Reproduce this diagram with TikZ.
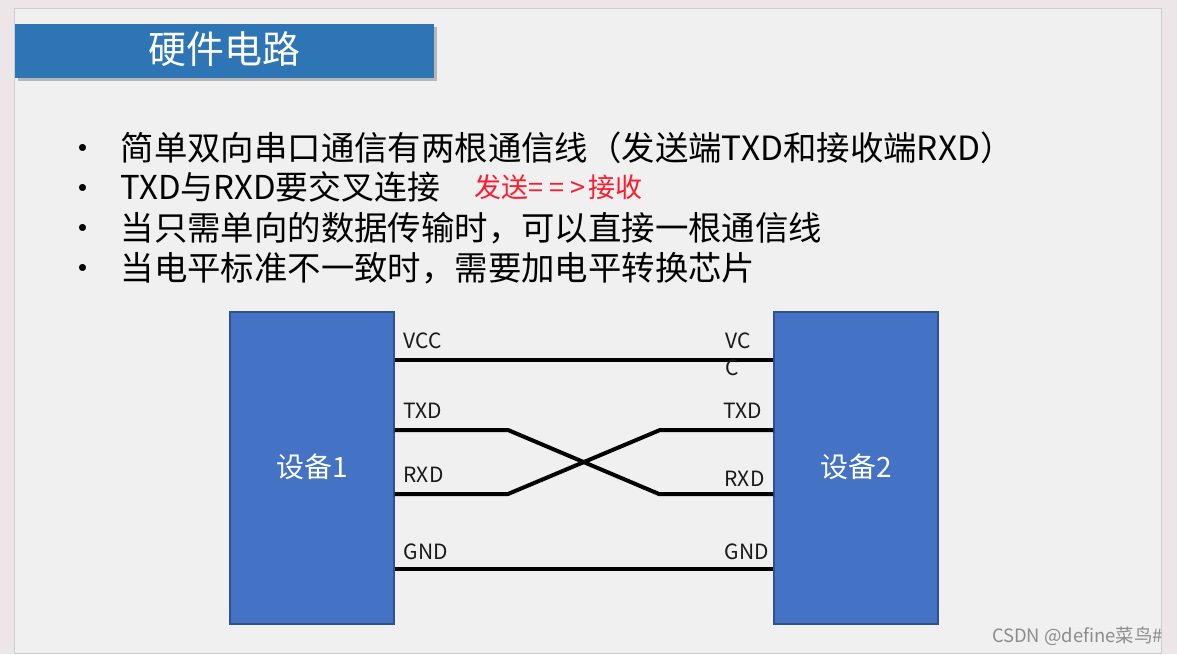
\documentclass[tikz,border=0pt]{standalone}
\usepackage{fontspec}
\setmainfont{Noto Sans CJK SC}
\usetikzlibrary{shadows}
\definecolor{slidebg}{HTML}{F0F0F0}
\definecolor{pagebg}{HTML}{EDE6E8}
\definecolor{titleblue}{HTML}{2E75B6}
\definecolor{devblue}{HTML}{4472C4}
\definecolor{devedge}{HTML}{2F528F}
\definecolor{markred}{HTML}{FF1A2E}
\tikzset{
	bullet/.style={anchor=center, inner sep=0pt, font=\fontsize{33}{33}\selectfont, text=black},
	bodyline/.style={anchor=west, inner sep=0pt, font=\fontsize{33.4}{34}\selectfont, text=black},
	device/.style={draw=devedge, line width=1.2pt, fill=devblue, text=white, minimum width=164pt, minimum height=312pt, inner sep=0pt, font=\fontsize{28}{28}\selectfont},
	pinlabel/.style={anchor=west, inner sep=0pt, font=\fontsize{21}{21}\selectfont, text=black!90},
	wire/.style={line width=4pt, black, line join=round}
}
\begin{document}
\begin{tikzpicture}[x=1pt, y=-1pt]
	\useasboundingbox (0,0) rectangle (1177,654);
	\fill[pagebg] (0,0) rectangle (1177,654);
	\fill[slidebg, draw=black!20] (14.5,8) rectangle (1161.5,653);

	% Title bar
	\node[fill=titleblue, minimum width=419pt, minimum height=54pt, inner sep=0pt, drop shadow={shadow xshift=2.5pt, shadow yshift=-2.5pt, opacity=0.5}] (bar) at (224.5,51) {};
	\node[text=white, inner sep=0pt, font=\fontsize{38}{38}\selectfont] (title) at (224.5,49) {硬件电路};

	% Bullet list
	\node[bullet] (b1) at (83,152.5) {•};
	\node[bullet] (b2) at (83,192) {•};
	\node[bullet] (b3) at (83,232) {•};
	\node[bullet] (b4) at (83,272) {•};
	\node[bodyline] (l1) at (120.5,148) {简单双向串口通信有两根通信线（发送端TXD和接收端RXD）};
	\node[bodyline, font=\fontsize{32.9}{33}\selectfont] (l2) at (120,187) {TXD与RXD要交叉连接};
	\node[anchor=west, inner sep=0pt, text=markred, font=\fontsize{27}{27}\selectfont] (send) at (474.5,187) {发送=\kern6pt=\kern6pt>\kern3pt接收};
	\node[bodyline] (l3) at (120.5,228) {当只需单向的数据传输时，可以直接一根通信线};
	\node[bodyline] (l4) at (120.5,268) {当电平标准不一致时，需要加电平转换芯片};

	% Two devices
	\node[device] (dev1) at (312,468) {\raisebox{4pt}{设备1}};
	\node[device] (dev2) at (856,468) {\raisebox{4pt}{设备2}};

	% Wire ends on the devices and bends of the crossing
	\coordinate (vcc1) at (dev1.east |- 0,359.5);
	\coordinate (vcc2) at (dev2.west |- 0,359.5);
	\coordinate (txd1) at (dev1.east |- 0,430);
	\coordinate (txd2) at (dev2.west |- 0,430);
	\coordinate (rxd1) at (dev1.east |- 0,494);
	\coordinate (rxd2) at (dev2.west |- 0,494);
	\coordinate (gnd1) at (dev1.east |- 0,569);
	\coordinate (gnd2) at (dev2.west |- 0,569);
	\coordinate (bend1) at (508,430);
	\coordinate (bend2) at (659,494);
	\coordinate (bend3) at (508,494);
	\coordinate (bend4) at (660,430);

	\draw[wire] (vcc1) -- (vcc2);
	\draw[wire] (txd1) -- (bend1) -- (bend2) -- (rxd2);
	\draw[wire] (rxd1) -- (bend3) -- (bend4) -- (txd2);
	\draw[wire] (gnd1) -- (gnd2);

	% Pin names
	\node[pinlabel] (vcc1l) at (403.5,341) {VCC};
	\node[pinlabel] (txd1l) at (403.5,411) {TXD};
	\node[pinlabel] (rxd1l) at (403.5,475) {RXD};
	\node[pinlabel] (gnd1l) at (403.5,552) {GND};
	\node[pinlabel] (vcc2l) at (725,341) {VC};
	\node[pinlabel] (vcc2m) at (725,368) {C};
	\node[pinlabel] (txd2l) at (723.5,411) {TXD};
	\node[pinlabel] (rxd2l) at (724.5,479) {RXD};
	\node[pinlabel] (gnd2l) at (724.5,552) {GND};

	\node[anchor=east, inner sep=0pt, text=black!45, font=\fontsize{18.4}{18}\selectfont] (mark) at (1163,636) {CSDN @define菜鸟\#};
\end{tikzpicture}
\end{document}
